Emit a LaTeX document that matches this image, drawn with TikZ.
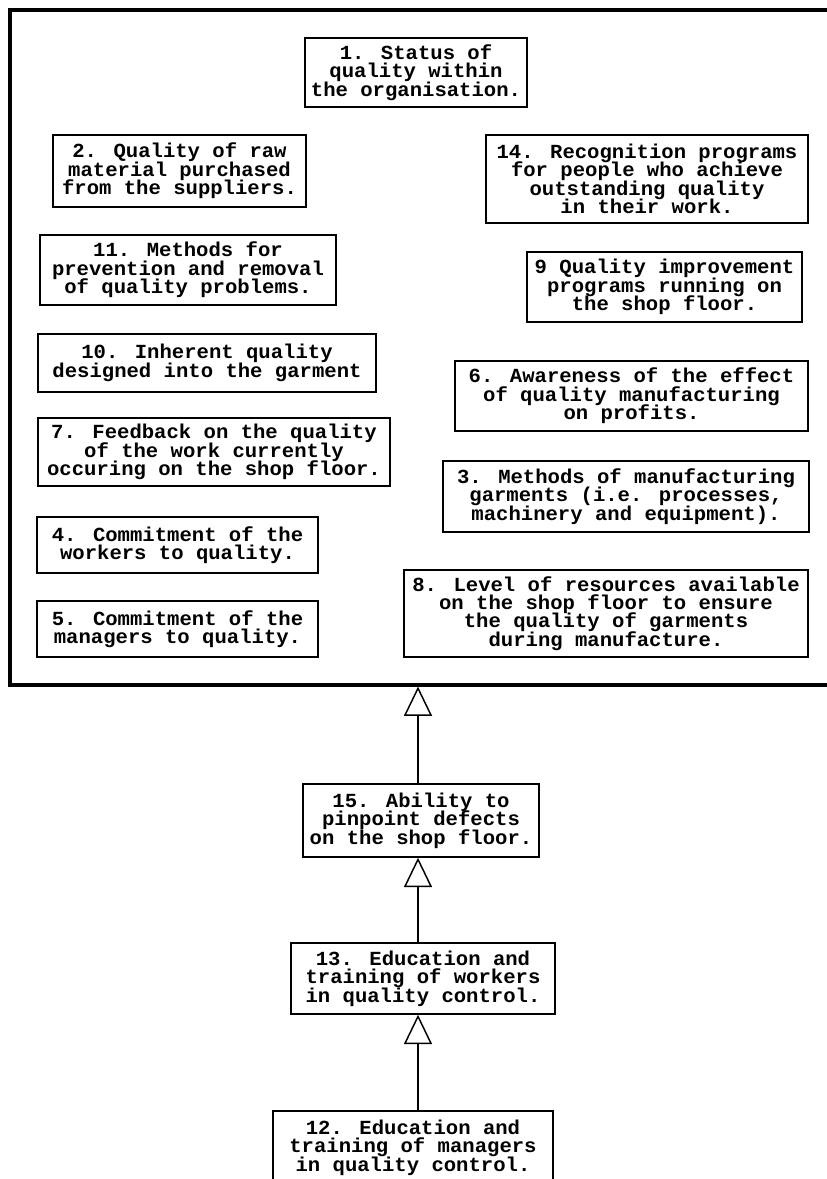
\documentclass[tikz,border=0pt]{standalone}
\usepackage{fontspec}
\usetikzlibrary{arrows.meta}
\newfontfamily\boxfont[FakeStretch=1.03]{Liberation Mono}
\newcommand{\boxtext}{\boxfont\bfseries\fontsize{15pt}{13.8pt}\selectfont
  \setlength{\lineskiplimit}{-100pt}\setlength{\lineskip}{0pt}}

% one box: name, left, top, right, bottom (pixel units), text
\newcommand{\qbox}[6]{%
  \node[qb, minimum width={(#4-#2)*0.75pt}, minimum height={(#5-#3)*0.75pt}]
    (#1) at ({(#2+#4)/2},{(#3+#5)/2}) {#6};}

\tikzset{
  qb/.style={draw, line width=1.1pt, rectangle, inner sep=0pt, align=center,
    font=\boxtext},
  frm/.style={draw, line width=2.3pt, rectangle, inner sep=0pt},
  up/.style={line width=1.1pt, -{Triangle[open, width=21pt, length=22pt]}}
}

\begin{document}
\begin{tikzpicture}[x=0.75pt, y=-0.75pt]
\useasboundingbox (0,0) rectangle (827,1179);
\clip (0,0) rectangle (827,1179);

% outer frame enclosing factors, open to the right
\node[frm, minimum width={(845-10)*0.75pt}, minimum height={(685-10)*0.75pt}]
  (frame) at ({(10+845)/2},{(10+685)/2}) {};

% factors inside the frame
\qbox{b1}{305}{38}{527}{107}{1. Status of\\quality within\\the organisation.}
\qbox{b2}{53}{135}{306}{207}{2. Quality of raw\\material purchased\\from the suppliers.}
\qbox{b14}{486}{135}{808}{223}{14. Recognition programs\\for people who achieve\\outstanding quality\\in their work.}
\qbox{b11}{40}{235}{336}{305}{11. Methods for\\prevention and removal\\of quality problems.}
\qbox{b9}{527}{252}{802}{322}{9 Quality improvement\\programs running on\\the shop floor.}
\qbox{b10}{38}{334}{376}{392}{10. Inherent quality\\designed into the garment}
\qbox{b6}{455}{361}{808}{431}{6. Awareness of the effect\\of quality manufacturing\\on profits.}
\qbox{b7}{38}{418}{390}{486}{7. Feedback on the quality\\of the work currently\\occuring on the shop floor.}
\qbox{b3}{443}{461}{809}{532}{3. Methods of manufacturing\\garments (i.e. processes,\\machinery and equipment).}
\qbox{b4}{37}{517}{318}{573}{4. Commitment of the\\workers to quality.}
\qbox{b8}{404}{570}{808}{657}{8. Level of resources available\\on the shop floor to ensure\\the quality of garments\\during manufacture.}
\qbox{b5}{37}{601}{318}{657}{5. Commitment of the\\managers to quality.}

% chain below the frame
\qbox{b15}{303}{784}{539}{857}{15. Ability to\\pinpoint defects\\on the shop floor.}
\qbox{b13}{291}{943}{555}{1014}{13. Education and\\training of workers\\in quality control.}
\qbox{b12}{273}{1111}{553}{1184}{12. Education and\\training of managers\\in quality control.}

% connectors
\draw[up] (b15.north -| 418,0) -- (frame.south -| 418,0);
\draw[up] (b13.north -| 418,0) -- (b15.south -| 418,0);
\draw[up] (b12.north -| 418,0) -- (b13.south -| 418,0);
\end{tikzpicture}
\end{document}
